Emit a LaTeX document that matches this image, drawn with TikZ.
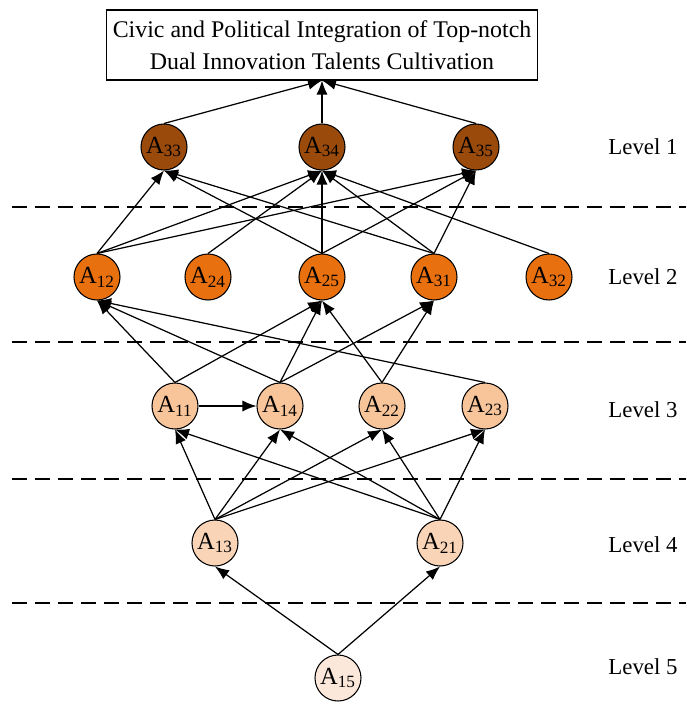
\documentclass[tikz,border=0pt]{standalone}
\usepackage{fontspec}
\setmainfont{Liberation Serif}
\usetikzlibrary{arrows.meta, positioning}
\definecolor{lvlone}{RGB}{154,74,10}
\definecolor{lvltwo}{RGB}{232,112,15}
\definecolor{lvlthree}{RGB}{248,197,155}
\definecolor{lvlfour}{RGB}{249,212,183}
\definecolor{lvlfive}{RGB}{252,232,218}
\newcommand{\fac}[1]{A\textsubscript{#1}}

\begin{document}
\begin{tikzpicture}[
        x=0.2mm,
        y=-0.2mm,
        fac/.style={circle, draw, line width=0.6pt, minimum size=9.2mm, inner sep=0pt,
                    font=\fontsize{14}{16}\selectfont},
        arc/.style={-{Latex[length=2.8mm, width=2.2mm]}, line width=0.7pt},
        sep/.style={dashed, dash pattern=on 3mm off 1.6mm, line width=0.7pt},
        lvl/.style={font=\fontsize{13}{15}\selectfont}
    ]
        \useasboundingbox (0,0) rectangle (686,724);

        % === BUT ===
        \node[draw, line width=0.6pt, minimum width=85.6mm, minimum height=14mm, align=center,
              font=\fontsize{13.6}{18.5}\selectfont] (goal) at (322,45)
              {Civic and Political Integration of Top-notch\\Dual Innovation Talents Cultivation};

        % === NIVEAUX (cercles) ===
        % Niveau 1
        \node[fac, fill=lvlone] (A33) at (164,147) {\fac{33}};
        \node[fac, fill=lvlone] (A34) at (322,147) {\fac{34}};
        \node[fac, fill=lvlone] (A35) at (476,147) {\fac{35}};
        % Niveau 2
        \node[fac, fill=lvltwo] (A12) at (97,277) {\fac{12}};
        \node[fac, fill=lvltwo] (A24) at (208,277) {\fac{24}};
        \node[fac, fill=lvltwo] (A25) at (322,277) {\fac{25}};
        \node[fac, fill=lvltwo] (A31) at (434,277) {\fac{31}};
        \node[fac, fill=lvltwo] (A32) at (549,277) {\fac{32}};
        % Niveau 3
        \node[fac, fill=lvlthree] (A11) at (175,406) {\fac{11}};
        \node[fac, fill=lvlthree] (A14) at (280,406) {\fac{14}};
        \node[fac, fill=lvlthree] (A22) at (382,406) {\fac{22}};
        \node[fac, fill=lvlthree] (A23) at (485,406) {\fac{23}};
        % Niveau 4
        \node[fac, fill=lvlfour] (A13) at (215,543) {\fac{13}};
        \node[fac, fill=lvlfour] (A21) at (440,543) {\fac{21}};
        % Niveau 5
        \node[fac, fill=lvlfive] (A15) at (338,678) {\fac{15}};

        % === ETIQUETTES ===
        \node[lvl] (lv1) at (643,147) {Level 1};
        \node[lvl] (lv2) at (643,277) {Level 2};
        \node[lvl] (lv3) at (643,410) {Level 3};
        \node[lvl] (lv4) at (643,545) {Level 4};
        \node[lvl] (lv5) at (643,667) {Level 5};

        % === SEPARATEURS ===
        \draw[sep] (12,207) -- (686,207);
        \draw[sep] (12,342) -- (686,342);
        \draw[sep] (12,479) -- (686,479);
        \draw[sep] (12,603) -- (686,603);

        % === LIAISONS ===
        % niveau 1 -> but
        \draw[arc] (A33.north) -- (goal.south);
        \draw[arc] (A34.north) -- (goal.south);
        \draw[arc] (A35.north) -- (goal.south);
        % niveau 2 -> niveau 1
        \draw[arc] (A12.north) -- (A33.south);
        \draw[arc] (A12.north) -- (A34.south);
        \draw[arc] (A12.north) -- (A35.south);
        \draw[arc] (A24.north) -- (A34.south);
        \draw[arc] (A25.north) -- (A33.south);
        \draw[arc] (A25.north) -- (A34.south);
        \draw[arc] (A25.north) -- (A35.south);
        \draw[arc] (A31.north) -- (A33.south);
        \draw[arc] (A31.north) -- (A34.south);
        \draw[arc] (A31.north) -- (A35.south);
        \draw[arc] (A32.north) -- (A34.south);
        % niveau 3 -> niveau 2
        \draw[arc] (A11.north) -- (A12.south);
        \draw[arc] (A11.north) -- (A25.south);
        \draw[arc] (A14.north) -- (A12.south);
        \draw[arc] (A14.north) -- (A25.south);
        \draw[arc] (A14.north) -- (A31.south);
        \draw[arc] (A22.north) -- (A25.south);
        \draw[arc] (A22.north) -- (A31.south);
        \draw[arc] (A23.north) -- (A12.south);
        \draw[arc] (A11) -- (A14);
        % niveau 4 -> niveau 3
        \draw[arc] (A13.north) -- (A11.south);
        \draw[arc] (A13.north) -- (A14.south);
        \draw[arc] (A13.north) -- (A22.south);
        \draw[arc] (A13.north) -- (A23.south);
        \draw[arc] (A21.north) -- (A11.south);
        \draw[arc] (A21.north) -- (A14.south);
        \draw[arc] (A21.north) -- (A22.south);
        \draw[arc] (A21.north) -- (A23.south);
        % niveau 5 -> niveau 4
        \draw[arc] (A15.north) -- (A13.south);
        \draw[arc] (A15.north) -- (A21.south);
    \end{tikzpicture}
\end{document}
